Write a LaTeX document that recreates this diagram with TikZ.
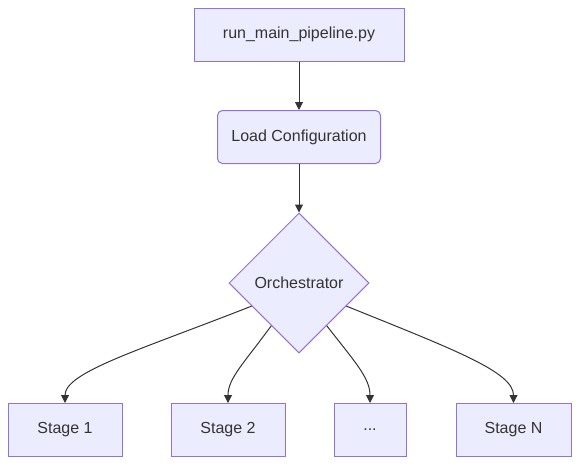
\documentclass[tikz,border=0pt]{standalone}
\usepackage{fontspec}
\setmainfont{Liberation Sans}
\usetikzlibrary{shapes.geometric,arrows.meta}
\definecolor{nodefill}{HTML}{ECECFF}
\definecolor{nodeline}{HTML}{9370DB}
\definecolor{txt}{HTML}{333333}
\definecolor{edge}{HTML}{333333}
\tikzset{
  box/.style={draw=nodeline, fill=nodefill, line width=1pt, text=txt, font=\fontsize{16pt}{19pt}\selectfont, minimum height=53pt, inner sep=0pt},
  rbox/.style={box, rounded corners=5pt},
  decision/.style={box, diamond, shape aspect=1, minimum width=140pt, minimum height=140pt},
  conn/.style={draw=edge, line width=1pt, -{Triangle[length=8pt,width=8pt]}},
}
\begin{document}
\begin{tikzpicture}[x=1pt,y=-1pt]
\useasboundingbox (0,0) rectangle (588,471);
\node[box, minimum width=210pt] (run) at (299,34.5) {run\_main\_pipeline.py};
\node[rbox, minimum width=163pt] (load) at (299,137) {Load Configuration};
\node[decision] (orch) at (299,283) {Orchestrator};
\node[box, minimum width=114pt] (s1) at (65,430) {Stage 1};
\node[box, minimum width=114pt] (s2) at (228,430) {Stage 2};
\node[box, minimum width=72pt] (s3) at (370,430) {...};
\node[box, minimum width=115pt] (sn) at (513.5,430) {Stage N};
\draw[conn] (run) -- (load);
\draw[conn] (load) -- (orch);
\draw[conn] (orch.206) .. controls (140,350) and (65,372) .. (s1.north);
\draw[conn] (orch.237) .. controls (245,362) and (228,378) .. (s2.north);
\draw[conn] (orch.303) .. controls (355,362) and (370,378) .. (s3.north);
\draw[conn] (orch.334) .. controls (455,350) and (513.5,372) .. (sn.north);
\end{tikzpicture}
\end{document}
